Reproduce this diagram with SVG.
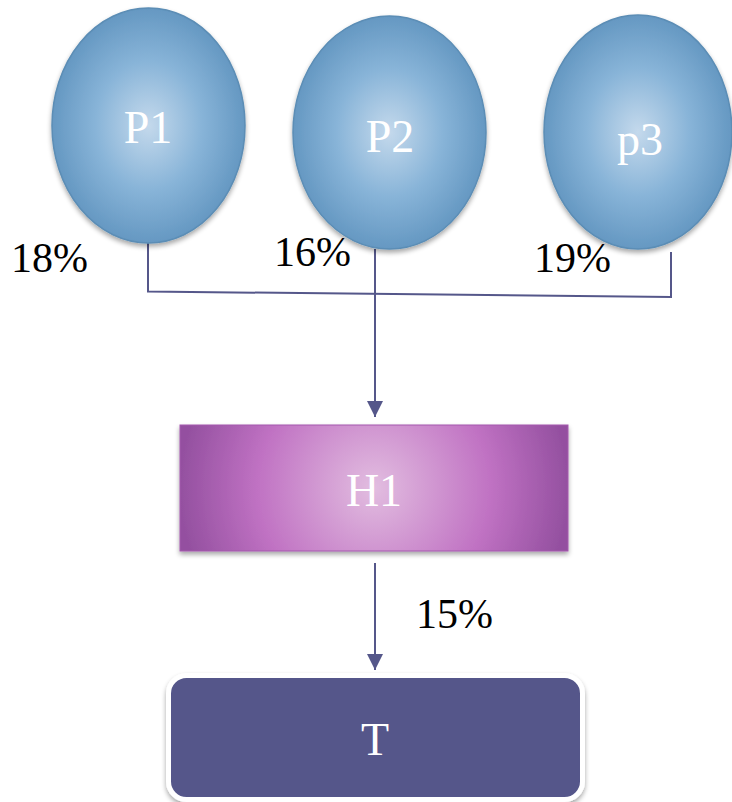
<svg xmlns="http://www.w3.org/2000/svg" width="732" height="802" viewBox="0 0 732 802">
<defs>
<radialGradient id="blue" cx="50%" cy="50%" r="50%">
<stop offset="0" stop-color="#c4d9ec"/>
<stop offset="0.55" stop-color="#88b4d8"/>
<stop offset="1" stop-color="#6598c2"/>
</radialGradient>
<radialGradient id="purple" cx="50%" cy="50%" r="50%" gradientTransform="translate(0.5 0.5) scale(1 3.1) translate(-0.5 -0.5)">
<stop offset="0" stop-color="#e2bde0"/>
<stop offset="0.6" stop-color="#c072c3"/>
<stop offset="1" stop-color="#9450a0"/>
</radialGradient>
<filter id="sh" x="-10%" y="-10%" width="120%" height="125%">
<feGaussianBlur in="SourceAlpha" stdDeviation="2.5"/>
<feOffset dx="0" dy="3" result="b"/>
<feComponentTransfer><feFuncA type="linear" slope="0.35"/></feComponentTransfer>
<feMerge><feMergeNode/><feMergeNode in="SourceGraphic"/></feMerge>
</filter>
<marker id="arr" viewBox="0 0 10 10" refX="10" refY="5" markerWidth="16" markerHeight="16" markerUnits="userSpaceOnUse" orient="auto">
<path d="M0,0 L10,5 L0,10 z" fill="#55578a"/>
</marker>
<style>
.ell{fill:url(#blue);stroke:#5b8db5;stroke-width:1.5}
.lbl{font-family:"Liberation Serif","Times New Roman",serif;font-size:46px;fill:#ffffff;text-anchor:middle}
.pct{font-family:"Liberation Serif","Times New Roman",serif;font-size:42px;fill:#000000}
.con{stroke:#55578a;stroke-width:2;fill:none}
</style>
</defs>
<g id="connectors">
<polyline class="con" points="148,243 148,291.5 671,297 671,252"/>
<line class="con" x1="375" y1="249" x2="375" y2="417" marker-end="url(#arr)"/>
<line class="con" x1="375" y1="563" x2="375" y2="670" marker-end="url(#arr)"/>
</g>
<g id="P1">
<ellipse class="ell" cx="148.5" cy="125.5" rx="96.5" ry="117.5" filter="url(#sh)"/>
<text class="lbl" x="148" y="143">P1</text>
</g>
<g id="P2">
<ellipse class="ell" cx="389.5" cy="132.5" rx="96.5" ry="116.5" filter="url(#sh)"/>
<text class="lbl" x="390" y="152">P2</text>
</g>
<g id="P3">
<ellipse class="ell" cx="638" cy="132" rx="94" ry="117" filter="url(#sh)"/>
<text class="lbl" x="640" y="155">p3</text>
</g>
<g id="H1">
<rect x="180" y="425" width="388" height="126" fill="url(#purple)" stroke="#a458ad" stroke-width="1" filter="url(#sh)"/>
<text class="lbl" x="374" y="506">H1</text>
</g>
<g id="T">
<rect x="168.5" y="675.5" width="414" height="124" rx="18" fill="#54568a" stroke="#ffffff" stroke-width="5" filter="url(#sh)"/>
<text class="lbl" x="375" y="755">T</text>
</g>
<g id="labels">
<text class="pct" x="11" y="272">18%</text>
<text class="pct" x="274" y="266">16%</text>
<text class="pct" x="534" y="272">19%</text>
<text class="pct" x="416" y="628">15%</text>
</g>
</svg>
